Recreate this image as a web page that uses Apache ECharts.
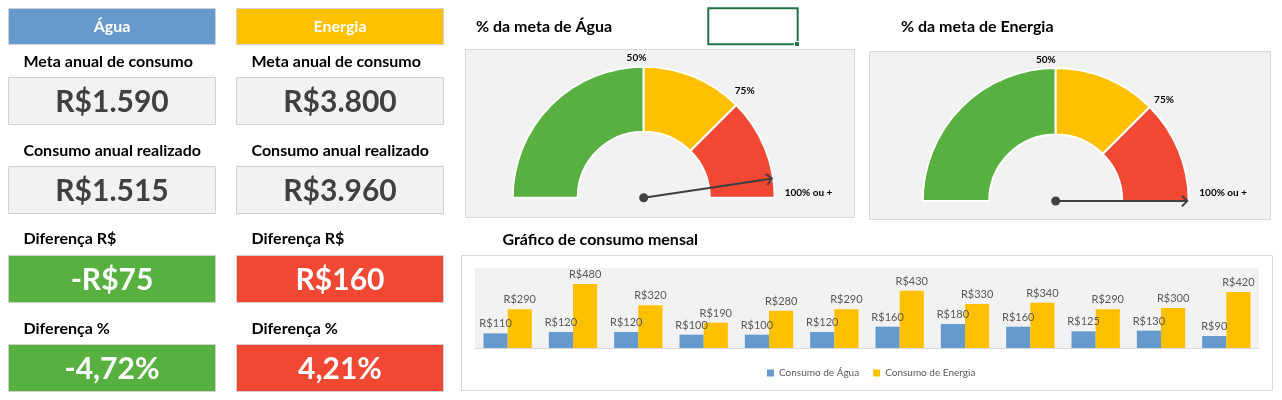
<!DOCTYPE html>
<html><head><meta charset="utf-8">
<script src="https://cdn.jsdelivr.net/npm/echarts@6/dist/echarts.min.js"></script>
<style>html,body{margin:0;padding:0;background:#fff}#c{width:1282px;height:400px}</style>
</head><body><div id="c"></div>
<script>
// ---- Data ----
const meses = ['Jan','Fev','Mar','Abr','Mai','Jun','Jul','Ago','Set','Out','Nov','Dez'];
const consumoAgua = [110,120,120,100,100,120,160,180,160,125,130,90];
const consumoEnergia = [290,480,320,190,280,290,430,330,340,290,300,420];
const recursos = ['Água','Energia'];
const metasAnuais = [1590, 3800];
const nomesSeries = ['Consumo de Água','Consumo de Energia'];
const faixasGauge = [0, 50, 75, 100];
const rotulosGauge = ['50%','75%','100% ou +'];
const rotulosCampos = ['Meta anual de consumo','Consumo anual realizado','Diferença R$','Diferença %'];

// ---- Helpers ----
const FONT = 'Lato, "Open Sans", sans-serif';
const C = {blue:'#6699CC', yellow:'#FFC000', green:'#57B03F', red:'#F04832', gray:'#F2F2F2', border:'#D9D9D9', dark:'#404040'};
function fmtBRL(v){
  const s = v < 0 ? '-' : '';
  const n = Math.round(Math.abs(v)).toString().replace(/\B(?=(\d{3})+(?!\d))/g,'.');
  return s + 'R$' + n;
}
function fmtPct(v){ return v.toFixed(2).replace('.',',') + '%'; }
const sum = a => a.reduce((x,y)=>x+y,0);
const realizados = [sum(consumoAgua), sum(consumoEnergia)];

const graphic = [];
function rect(x,y,w,h,fill,stroke,lw,z){
  graphic.push({type:'rect', z: z==null?0:z, silent:true, shape:{x:x,y:y,width:w,height:h},
    style:{fill:fill, stroke:stroke||null, lineWidth:lw||1}});
}
function text(x,y,t,opt){
  opt = opt||{};
  graphic.push({type:'text', z:10, silent:true, x:x, y:y,
    style:{text:t, fill:opt.color||'#000', fontSize:opt.size||16, fontWeight:opt.weight||'bold',
      fontFamily:FONT, align:opt.align||'left', verticalAlign:'middle'}});
}

// ---- Left KPI panel ----
const colX = [8.5, 236.5], colW = 207;
const headerColors = [C.blue, C.yellow];
const labelY = [61.7, 150.7, 239.3, 328.7];
const boxY = [77.5, 166.5, 255.5, 344.5];
for (let i = 0; i < 2; i++) {
  const x = colX[i];
  rect(x, 8.5, colW, 36, headerColors[i], '#D0D0D0');
  text(x + colW/2, 26.5, recursos[i], {color:'#fff', align:'center', size:16});
  const diff = realizados[i] - metasAnuais[i];
  const pct = diff / metasAnuais[i] * 100;
  const diffColor = diff < 0 ? C.green : C.red;
  const vals = [fmtBRL(metasAnuais[i]), fmtBRL(realizados[i]), fmtBRL(diff), fmtPct(pct)];
  const fills = [C.gray, C.gray, diffColor, diffColor];
  const tcol = [C.dark, C.dark, '#fff', '#fff'];
  for (let k = 0; k < 4; k++) {
    text(x + 15, labelY[k], rotulosCampos[k], {size:16});
    rect(x, boxY[k], colW, 47, fills[k], '#D0D0D0');
    text(x + colW/2, boxY[k] + 24.5, vals[k], {color:tcol[k], align:'center', size:30});
  }
}

// ---- Gauge titles & panels ----
text(476, 26.7, '% da meta de Água', {size:16});
text(901, 26.7, '% da meta de Energia', {size:16});
rect(465.5, 49.5, 389, 168, C.gray, C.border);
rect(869.5, 51.5, 401, 168, C.gray, C.border);
// Excel selected cell
rect(708.3, 8.3, 89.4, 36, null, '#217346', 2);
rect(794.5, 41.5, 5, 5, '#217346', '#fff', 1);

// gauge labels
const gaugeLabelPos = [
  [[636.5,57.7,'center'],[744.7,90.7,'center'],[784.7,192.7,'left']],
  [[1045.8,60,'center'],[1164,100,'center'],[1199.3,193,'left']]
];
for (let g = 0; g < 2; g++) for (let k = 0; k < 3; k++) {
  const p = gaugeLabelPos[g][k];
  text(p[0], p[1], rotulosGauge[k], {size:10, weight:'bold', align:p[2]});
}

// bar chart title & panel
text(502.5, 240, 'Gráfico de consumo mensal', {size:16});
rect(461.5, 255.5, 811, 135, '#fff', C.border);

// ---- Gauges ----
const gaugeColors = [C.green, C.yellow, C.red];
const gaugeGeom = [
  {center:[643.7,197.7], r:131, r0:66},
  {center:[1055.7,201], r:133, r0:66.5}
];
const NEEDLE = 'path://M6 0 L12 6 L10.8 7.4 L6 2.6 L1.2 7.4 L0 6 Z M5 2.4 L7 2.4 L7 131 L5 131 Z';
const series = [];
for (let g = 0; g < 2; g++) {
  const geo = gaugeGeom[g];
  const segData = [];
  for (let k = 1; k < faixasGauge.length; k++) {
    segData.push({value: faixasGauge[k]-faixasGauge[k-1], itemStyle:{color:gaugeColors[k-1]}});
  }
  segData.push({value: faixasGauge[faixasGauge.length-1]-faixasGauge[0], itemStyle:{color:'rgba(0,0,0,0)', borderWidth:0}});
  series.push({type:'pie', center:geo.center, radius:[geo.r0, geo.r], startAngle:180, clockwise:true,
    silent:true, z:3, label:{show:false}, labelLine:{show:false}, avoidLabelOverlap:false,
    itemStyle:{borderColor:'#fff', borderWidth:2}, data:segData});
  const pctMeta = Math.min(100, realizados[g] / metasAnuais[g] * 100);
  series.push({type:'gauge', center:geo.center, radius:geo.r, startAngle:180, endAngle:0,
    min:faixasGauge[0], max:faixasGauge[faixasGauge.length-1], silent:true, z:5,
    axisLine:{show:false}, splitLine:{show:false}, axisTick:{show:false}, axisLabel:{show:false},
    progress:{show:false}, title:{show:false}, detail:{show:false},
    pointer:{show:true, icon:NEEDLE, length:geo.r, width:12, offsetCenter:[0,0], itemStyle:{color:C.dark}},
    anchor:{show:true, showAbove:true, size:9, itemStyle:{color:C.dark}},
    data:[{value:pctMeta}]});
}

// ---- Bars ----
const lbl = {show:true, position:'top', distance:4, color:'#595959', fontSize:11, fontFamily:FONT,
  formatter: p => fmtBRL(p.value)};
series.push({type:'bar', name:nomesSeries[0], data:consumoAgua, itemStyle:{color:C.blue},
  barGap:'0%', barCategoryGap:'26%', label:lbl, z:4});
series.push({type:'bar', name:nomesSeries[1], data:consumoEnergia, itemStyle:{color:C.yellow},
  barGap:'0%', barCategoryGap:'26%', label:lbl, z:4});

const chart = echarts.init(document.getElementById('c'), null, {renderer:'canvas'});
chart.setOption({
  animation:false,
  backgroundColor:'#fff',
  textStyle:{fontFamily:FONT},
  graphic: graphic,
  grid:{left:475, top:268, width:784, height:80, show:true, backgroundColor:C.gray, borderWidth:0, z:1, containLabel:false},
  xAxis:{type:'category', data:meses, axisLine:{show:true, lineStyle:{color:'#D9D9D9', width:1}},
    axisTick:{show:false}, axisLabel:{show:false}, splitLine:{show:false}},
  yAxis:{type:'value', min:0, max:600, show:false, splitLine:{show:false}},
  legend:{data:nomesSeries, left:767, top:368, padding:0, icon:'rect', itemWidth:7, itemHeight:7, itemGap:14,
    textStyle:{color:'#595959', fontSize:10, fontFamily:FONT}},
  series: series
});
</script></body></html>
